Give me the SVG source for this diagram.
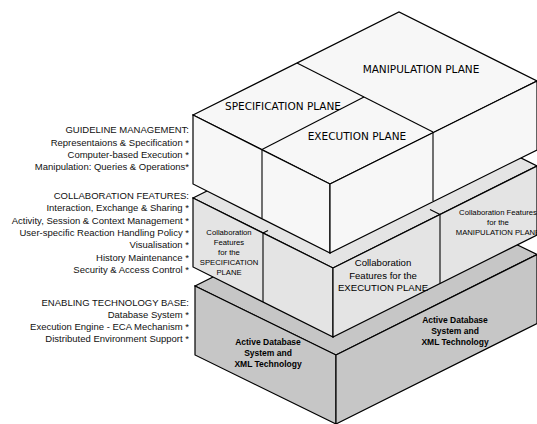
<svg xmlns="http://www.w3.org/2000/svg" width="537" height="424" viewBox="0 0 537 424">
<style>
.f{stroke:#000;stroke-width:1.2;stroke-linejoin:miter}
.t{fill:#f7f7f7}
.m{fill:#e4e4e4}
.b{fill:#c6c6c6}
.ln{stroke:#000;stroke-width:1.1;fill:none}
.lab{font-family:"Liberation Sans",Arial,sans-serif;font-size:9.5px;fill:#111;text-anchor:end}
.pl{font-family:"DejaVu Sans",sans-serif;font-size:10.5px;fill:#000;text-anchor:middle}
.cs{font-family:"Liberation Sans",Arial,sans-serif;font-size:7.7px;fill:#000;text-anchor:middle}
.ce{font-family:"Liberation Sans",Arial,sans-serif;font-size:9.6px;fill:#000;text-anchor:middle}
.bb{font-family:"Liberation Sans",Arial,sans-serif;font-size:8.5px;font-weight:bold;fill:#000;text-anchor:middle}
</style>
<rect width="537" height="424" fill="#fff"/>
<g id="labels">
<text class="lab" x="189" y="133">GUIDELINE MANAGEMENT:</text>
<text class="lab" x="189" y="146">Representaions &amp; Specification *</text>
<text class="lab" x="189" y="158">Computer-based Execution *</text>
<text class="lab" x="189" y="170">Manipulation: Queries &amp; Operations*</text>
<text class="lab" x="189" y="199">COLLABORATION FEATURES:</text>
<text class="lab" x="189" y="211">Interaction, Exchange  &amp; Sharing *</text>
<text class="lab" x="189" y="224">Activity, Session &amp; Context Management *</text>
<text class="lab" x="189" y="236">User-specific Reaction Handling Policy *</text>
<text class="lab" x="189" y="248">Visualisation *</text>
<text class="lab" x="189" y="261">History Maintenance *</text>
<text class="lab" x="189" y="273">Security &amp; Access Control *</text>
<text class="lab" x="189" y="306">ENABLING TECHNOLOGY BASE:</text>
<text class="lab" x="189" y="318">Database System *</text>
<text class="lab" x="189" y="330">Execution Engine - ECA Mechanism *</text>
<text class="lab" x="189" y="342">Distributed Environment Support *</text>
</g>
<g id="base-layer">
<polygon class="f b" points="195,286 396,185.5 537,254.5 336,355"/>
<polygon class="f b" points="195,286 336,355 336,424 195,355"/>
<polygon class="f b" points="336,355 537,254.5 537,323.5 336,424"/>
<text class="bb" x="268" y="345">Active Database</text>
<text class="bb" x="268" y="356">System and</text>
<text class="bb" x="268" y="367">XML Technology</text>
<text class="bb" x="455" y="323">Active Database</text>
<text class="bb" x="455" y="334">System and</text>
<text class="bb" x="455" y="345">XML Technology</text>
</g>
<g id="collaboration-layer">
<polygon class="f m" points="193,198 397,96 537,166 333,268"/>
<polygon class="f m" points="193,198 333,268 333,337 193,267"/>
<polygon class="f m" points="333,268 537,166 537,235 333,337"/>
<line class="ln" x1="263" y1="233" x2="263" y2="302"/>
<line class="ln" x1="263" y1="233" x2="268" y2="230.5"/>
<line class="ln" x1="440" y1="214.5" x2="440" y2="283.5"/>
<line class="ln" x1="440" y1="214.5" x2="430" y2="209.5"/>
<text class="cs" x="229" y="235">Collaboration</text>
<text class="cs" x="229" y="245">Features</text>
<text class="cs" x="229" y="255">for the</text>
<text class="cs" x="229" y="265">SPECIFICATION</text>
<text class="cs" x="229" y="275">PLANE</text>
<text class="ce" x="383" y="266">Collaboration</text>
<text class="ce" x="383" y="279">Features for the</text>
<text class="ce" x="383" y="291">EXECUTION PLANE</text>
<text class="cs" x="498" y="215">Collaboration Features</text>
<text class="cs" x="498" y="225">for the</text>
<text class="cs" x="498" y="235">MANIPULATION PLANE</text>
</g>
<g id="plane-layer">
<polygon class="f t" points="193,115 399,12 537,81 330,184"/>
<polygon class="f t" points="193,115 330,184 330,253 193,184"/>
<polygon class="f t" points="330,184 537,81 537,150 330,253"/>
<line class="ln" x1="297" y1="63" x2="433" y2="132"/>
<line class="ln" x1="364" y1="97" x2="262" y2="149.5"/>
<line class="ln" x1="262" y1="149.5" x2="262" y2="218.5"/>
<line class="ln" x1="433" y1="132" x2="433" y2="201"/>
<text class="pl" x="421" y="73">MANIPULATION PLANE</text>
<text class="pl" x="283" y="110">SPECIFICATION PLANE</text>
<text class="pl" x="357" y="140">EXECUTION PLANE</text>
</g>
</svg>
